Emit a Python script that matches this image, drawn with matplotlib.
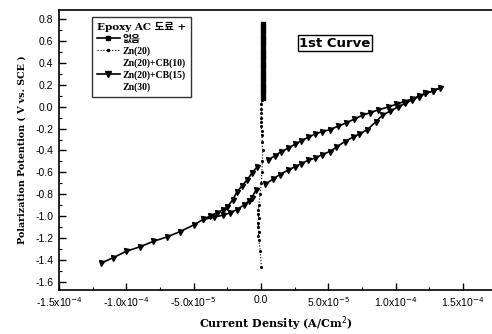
import matplotlib
matplotlib.use("Agg")
from matplotlib import pyplot as plt
from matplotlib.lines import Line2D
from matplotlib.ticker import MultipleLocator
import numpy as np

# --- data ---
# bare epoxy ("없음"): dense squares on a vertical spike near zero current
none_x = [1.6e-6, 1.5e-6, 1.7e-6, 1.4e-6, 1.6e-6, 1.5e-6, 1.8e-6, 1.5e-6, 1.6e-6,
          1.4e-6, 1.7e-6, 1.5e-6, 1.6e-6, 1.5e-6, 1.4e-6, 1.6e-6, 1.3e-6, 1.2e-6]
none_y = [0.75, 0.72, 0.68, 0.64, 0.60, 0.56, 0.52, 0.48, 0.44,
          0.40, 0.36, 0.32, 0.28, 0.24, 0.20, 0.16, 0.12, 0.08]

# Zn(20): small dots under the spike
zn20_x = [0.6e-6, 0.4e-6, 0.3e-6, 0.2e-6, 0.3e-6, 0.2e-6, 0.1e-6, 0.2e-6, 0.4e-6,
          0.6e-6, 0.9e-6, 1.2e-6, 1.0e-6, 0.6e-6, 0.2e-6, -0.8e-6, -1.6e-6, -1.9e-6,
          -2.1e-6, -1.8e-6, -2.2e-6, -1.9e-6, -1.7e-6, -2.0e-6, -1.6e-6, -0.5e-6, 0.2e-6]
zn20_y = [0.10, 0.06, 0.02, -0.02, -0.06, -0.10, -0.14, -0.18, -0.22,
          -0.26, -0.32, -0.40, -0.50, -0.60, -0.70, -0.80, -0.90, -0.94,
          -0.98, -1.02, -1.06, -1.10, -1.14, -1.18, -1.22, -1.32, -1.46]

# Zn(20)+CB(15): hysteresis loop with down triangles (nan = gap at zero current)
cb15_x = [-1.19e-4, -1.10e-4, -1.00e-4, -9.0e-5, -8.0e-5, -7.0e-5, -6.0e-5, -5.0e-5, -4.3e-5,
          -3.8e-5, -3.3e-5, -2.8e-5, -2.5e-5, -2.1e-5, -1.8e-5, -1.4e-5, -1.04e-5, -7.0e-6, -3.0e-6,
          np.nan,
          5.0e-6, 1.0e-5, 1.5e-5, 2.0e-5, 2.5e-5, 3.0e-5, 3.5e-5, 4.0e-5, 4.5e-5, 5.1e-5,
          5.7e-5, 6.3e-5, 6.9e-5, 7.5e-5, 8.1e-5, 8.7e-5, 9.4e-5, 1.00e-4, 1.06e-4, 1.12e-4,
          1.17e-4, 1.22e-4, 1.28e-4, 1.33e-4,
          1.28e-4, 1.22e-4, 1.17e-4, 1.12e-4, 1.07e-4, 1.02e-4, 9.6e-5, 9.0e-5, 8.5e-5, 7.9e-5,
          7.3e-5, 6.8e-5, 6.2e-5, 5.6e-5, 5.1e-5, 4.5e-5, 4.0e-5, 3.5e-5, 3.0e-5, 2.5e-5,
          2.0e-5, 1.4e-5, 9.0e-6, 3.0e-6,
          np.nan,
          -3.7e-6, -6.7e-6, -9.0e-6, -1.3e-5, -1.8e-5, -2.3e-5, -2.8e-5, -3.5e-5, -4.3e-5]
cb15_y = [-1.43, -1.38, -1.32, -1.28, -1.23, -1.19, -1.14, -1.08, -1.03,
          -1.00, -0.97, -0.94, -0.915, -0.85, -0.78, -0.72, -0.67, -0.61, -0.55,
          np.nan,
          -0.49, -0.45, -0.41, -0.38, -0.345, -0.31, -0.28, -0.25, -0.23, -0.21,
          -0.18, -0.15, -0.115, -0.08, -0.055, -0.03, -0.005, 0.02, 0.045, 0.07,
          0.095, 0.12, 0.145, 0.17,
          0.145, 0.12, 0.09, 0.06, 0.03, 0.00, -0.04, -0.08, -0.14, -0.21,
          -0.25, -0.28, -0.32, -0.37, -0.41, -0.44, -0.47, -0.49, -0.52, -0.55,
          -0.58, -0.62, -0.66, -0.71,
          np.nan,
          -0.76, -0.83, -0.86, -0.90, -0.94, -0.97, -0.99, -1.01, -1.03]

x_ticks = [-1.5e-4, -1.0e-4, -5.0e-5, 0.0, 5.0e-5, 1.0e-4, 1.5e-4]
x_labels = [r'-1.5x10$^{-4}$', r'-1.0x10$^{-4}$', r'-5.0x10$^{-5}$', '0.0',
            r'5.0x10$^{-5}$', r'1.0x10$^{-4}$', r'1.5x10$^{-4}$']
y_ticks = [0.8, 0.6, 0.4, 0.2, 0.0, -0.2, -0.4, -0.6, -0.8, -1.0, -1.2, -1.4, -1.6]

serif_b = dict(family=['Liberation Serif', 'Noto Sans CJK KR'], weight='bold')
wide_b = dict(family=['DejaVu Serif', 'Noto Sans CJK KR'], weight='bold')

fig = plt.figure(figsize=(4.92, 3.34), dpi=100)
ax = fig.add_axes([0.12, 0.132, 0.88, 0.838])

ax.plot(none_x, none_y, '-s', color='black', lw=2.2, ms=3)
ax.plot(zn20_x, zn20_y, ':', color='black', lw=0.8, marker='.', ms=2.5)
ax.plot(cb15_x, cb15_y, '-v', color='black', lw=1.2, ms=3.6)

ax.set_xlim(-1.5e-4, 1.715e-4)
ax.set_ylim(-1.673, 0.882)
ax.set_xticks(x_ticks)
ax.set_xticklabels(x_labels, family='Liberation Sans', fontsize=7.5)
ax.set_yticks(y_ticks)
ax.set_yticklabels(['%.1f' % v for v in y_ticks], family='Liberation Sans', fontsize=7.5)
ax.xaxis.set_minor_locator(MultipleLocator(2.5e-5))
ax.yaxis.set_minor_locator(MultipleLocator(0.1))
ax.tick_params(which='major', direction='in', length=5, width=1, pad=4)
ax.tick_params(which='minor', direction='in', length=2.5, width=0.8)
ax.tick_params(axis='y', right=False)
ax.spines['right'].set_visible(False)
for s in ['left', 'bottom', 'top']:
    ax.spines[s].set_linewidth(1.2)

ax.set_xlabel('Current Density (A/Cm$^2$)', fontsize=8, labelpad=4, **wide_b)
ax.set_ylabel('Polarization Potention ( V vs. SCE )', fontsize=6.8, labelpad=6, **wide_b)

handles = [
    Line2D([], [], color='black', lw=1.2, marker='s', ms=3),
    Line2D([], [], color='black', lw=0.8, ls=':', marker='.', ms=3),
    Line2D([], [], color='none'),
    Line2D([], [], color='black', lw=1.2, marker='v', ms=4),
    Line2D([], [], color='none'),
]
labels = ['없음', 'Zn(20)', 'Zn(20)+CB(10)', 'Zn(20)+CB(15)', 'Zn(30)']
leg = ax.legend(handles, labels, title='Epoxy AC 도료 +', loc='upper left',
                bbox_to_anchor=(0.076, 0.975), frameon=True, fancybox=False,
                prop=dict(size=7, **serif_b),
                title_fontproperties=dict(size=7.5, **wide_b),
                handlelength=2.4, handletextpad=0.2, labelspacing=0.25,
                borderpad=0.5, borderaxespad=0)
leg._legend_box.align = 'left'
leg.get_frame().set_edgecolor('black')
leg.get_frame().set_linewidth(1)

ax.text(0.637, 0.882, '1st Curve', transform=ax.transAxes, ha='center', va='center',
        family='DejaVu Sans', weight='bold', fontsize=9.5,
        bbox=dict(boxstyle='square,pad=0.1', fc='white', ec='black', lw=1))

fig.savefig('out.png', dpi=100)
